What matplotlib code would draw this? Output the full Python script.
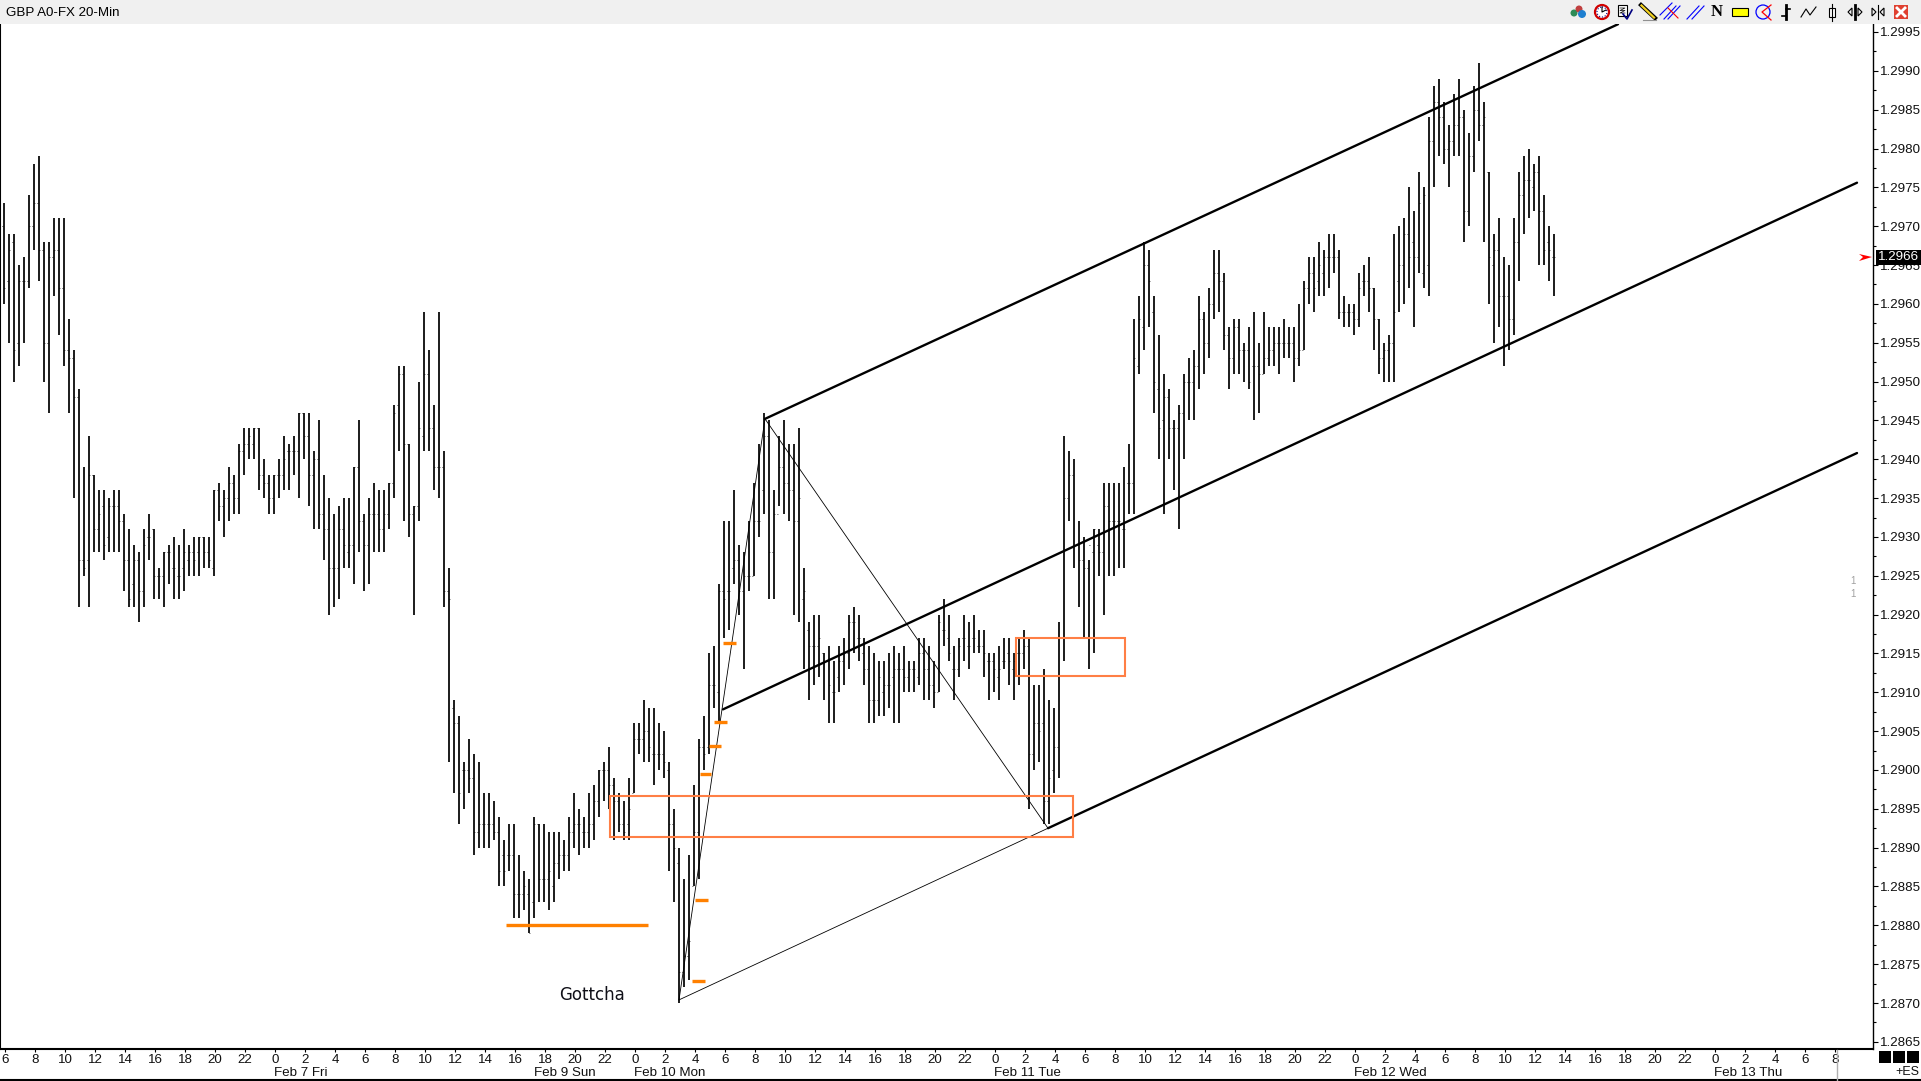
import numpy as np
import matplotlib
matplotlib.use("Agg")
import matplotlib.pyplot as plt
from matplotlib.patches import Rectangle, Polygon, Circle

# 20 minute bars, prices in 1/10000
high_ticks = [
    12973,12969,12969,12965,12966,12974,12978,12979,12968,12968,
    12971,12971,12971,12958,12954,12949,12939,12943,12938,12936,
    12936,12935,12936,12936,12933,12931,12929,12928,12931,12933,
    12931,12926,12928,12929,12930,12929,12931,12929,12930,12930,
    12930,12930,12936,12937,12936,12939,12938,12942,12944,12944,
    12944,12944,12940,12938,12938,12940,12943,12942,12943,12946,
    12946,12946,12941,12945,12938,12935,12933,12934,12935,12935,
    12939,12945,12933,12935,12937,12936,12936,12937,12947,12952,
    12952,12942,12934,12950,12959,12954,12947,12959,12941,12926,
    12909,12907,12901,12904,12902,12901,12897,12897,12896,12894,
    12891,12893,12893,12889,12887,12886,12894,12893,12893,12892,
    12892,12892,12891,12894,12897,12895,12894,12897,12898,12900,
    12901,12903,12899,12897,12896,12899,12906,12906,12909,12908,
    12908,12906,12905,12901,12895,12890,12886,12889,12898,12904,
    12907,12915,12916,12924,12932,12932,12936,12929,12928,12932,
    12937,12942,12946,12945,12936,12943,12945,12942,12942,12944,
    12926,12919,12920,12920,12915,12916,12914,12916,12917,12920,
    12921,12920,12917,12916,12915,12914,12914,12915,12916,12915,
    12916,12914,12914,12917,12917,12916,12914,12920,12922,12920,
    12916,12917,12920,12919,12920,12918,12918,12915,12915,12916,
    12917,12917,12915,12917,12918,12917,12911,12911,12913,12909,
    12908,12919,12943,12941,12940,12932,12930,12927,12931,12931,
    12937,12937,12937,12937,12939,12942,12958,12961,12968,12967,
    12961,12956,12951,12949,12945,12947,12951,12953,12954,12961,
    12959,12962,12967,12967,12964,12957,12958,12958,12955,12957,
    12959,12955,12959,12957,12957,12957,12958,12957,12957,12960,
    12963,12966,12966,12968,12967,12969,12969,12967,12961,12960,
    12960,12964,12965,12966,12962,12958,12955,12956,12969,12970,
    12971,12975,12972,12977,12975,12984,12988,12989,12986,12983,
    12987,12989,12985,12982,12988,12991,12986,12977,12969,12971,
    12966,12965,12971,12977,12979,12980,12978,12979,12974,12970,12969,
]
low_ticks = [
    12960,12955,12950,12952,12955,12962,12967,12963,12950,12946,
    12961,12956,12952,12946,12935,12921,12925,12921,12928,12928,
    12927,12928,12928,12928,12923,12921,12921,12919,12921,12927,
    12922,12922,12921,12924,12922,12922,12923,12925,12925,12925,
    12926,12926,12925,12932,12930,12932,12933,12933,12938,12940,
    12940,12936,12935,12933,12933,12935,12936,12936,12938,12935,
    12940,12934,12931,12931,12927,12920,12921,12922,12926,12926,
    12924,12928,12923,12924,12928,12928,12928,12931,12935,12941,
    12932,12930,12920,12932,12941,12941,12936,12935,12921,12901,
    12897,12893,12895,12897,12889,12890,12890,12890,12891,12885,
    12885,12887,12881,12881,12882,12879,12881,12883,12883,12882,
    12883,12886,12887,12887,12890,12889,12890,12890,12891,12894,
    12896,12895,12891,12892,12891,12891,12897,12902,12901,12901,
    12898,12900,12899,12887,12883,12870,12872,12873,12885,12886,
    12900,12902,12908,12906,12917,12918,12924,12920,12913,12923,
    12925,12930,12933,12922,12922,12934,12933,12932,12920,12919,
    12913,12909,12911,12912,12909,12906,12906,12910,12911,12913,
    12915,12914,12911,12906,12906,12907,12907,12908,12906,12906,
    12910,12910,12910,12911,12909,12909,12908,12910,12916,12914,
    12909,12912,12914,12913,12915,12915,12912,12909,12910,12909,
    12913,12911,12909,12911,12913,12895,12900,12901,12893,12893,
    12897,12899,12914,12932,12926,12921,12917,12913,12915,12925,
    12920,12925,12925,12926,12926,12933,12933,12951,12954,12957,
    12946,12940,12933,12940,12936,12931,12940,12945,12945,12949,
    12951,12953,12958,12959,12954,12949,12951,12951,12950,12949,
    12945,12946,12951,12952,12952,12951,12953,12953,12950,12952,
    12954,12960,12959,12961,12961,12962,12964,12958,12957,12957,
    12956,12957,12961,12959,12954,12951,12950,12950,12950,12959,
    12960,12962,12957,12964,12962,12961,12975,12979,12978,12975,
    12979,12979,12968,12970,12977,12981,12968,12960,12955,12957,
    12952,12954,12956,12963,12969,12971,12972,12965,12965,12963,12961,
]
open_ticks = [
    12970,12963,12968,12955,12963,12963,12970,12973,12967,12955,
    12966,12967,12962,12954,12953,12948,12927,12927,12938,12931,
    12934,12930,12934,12934,12932,12927,12924,12927,12923,12930,
    12931,12925,12925,12928,12926,12925,12926,12927,12928,12928,
    12930,12928,12926,12936,12934,12935,12937,12935,12941,12942,
    12942,12944,12938,12937,12935,12938,12938,12941,12941,12941,
    12946,12943,12938,12940,12933,12931,12926,12926,12931,12928,
    12929,12939,12932,12929,12933,12933,12931,12933,12937,12947,
    12951,12942,12933,12934,12943,12951,12944,12939,12939,12923,
    12908,12906,12900,12900,12899,12892,12893,12893,12893,12892,
    12889,12889,12889,12884,12884,12884,12883,12893,12886,12886,
    12885,12888,12889,12889,12892,12893,12892,12892,12893,12896,
    12900,12900,12898,12896,12893,12893,12897,12904,12904,12905,
    12902,12902,12902,12900,12893,12888,12874,12876,12885,12892,
    12903,12903,12911,12910,12923,12923,12926,12927,12923,12925,
    12925,12932,12936,12943,12928,12933,12939,12937,12936,12932,
    12922,12918,12916,12916,12915,12914,12910,12912,12914,12915,
    12919,12917,12915,12913,12909,12909,12910,12911,12912,12913,
    12913,12912,12913,12912,12915,12913,12911,12910,12918,12917,
    12913,12913,12917,12916,12917,12916,12916,12914,12914,12912,
    12914,12915,12913,12915,12915,12916,12902,12906,12906,12896,
    12900,12903,12917,12935,12938,12929,12927,12926,12928,12929,
    12928,12934,12932,12932,12931,12937,12937,12952,12957,12965,
    12959,12949,12945,12948,12944,12944,12946,12950,12950,12952,
    12958,12955,12960,12964,12963,12956,12953,12957,12954,12954,
    12952,12952,12951,12953,12954,12955,12955,12955,12955,12953,
    12954,12962,12964,12963,12964,12966,12966,12966,12959,12959,
    12959,12958,12963,12963,12962,12958,12953,12954,12955,12963,
    12965,12969,12968,12966,12964,12965,12981,12986,12984,12980,
    12981,12983,12984,12972,12979,12985,12983,12977,12965,12967,
    12961,12961,12958,12968,12974,12976,12975,12977,12972,12968,12966,
]
close_ticks = [
    12962,12967,12954,12963,12963,12970,12973,12967,12955,12966,
    12967,12962,12954,12953,12948,12927,12926,12938,12931,12933,
    12929,12934,12934,12932,12927,12922,12927,12923,12929,12930,
    12925,12925,12928,12928,12926,12925,12928,12928,12927,12930,
    12928,12927,12936,12934,12935,12937,12935,12941,12942,12943,
    12944,12938,12937,12935,12938,12938,12940,12941,12941,12946,
    12943,12938,12940,12933,12931,12926,12926,12931,12929,12929,
    12939,12932,12929,12933,12933,12931,12933,12937,12946,12951,
    12942,12933,12934,12944,12951,12944,12939,12939,12923,12922,
    12906,12897,12900,12899,12892,12893,12893,12893,12892,12887,
    12887,12889,12884,12884,12885,12879,12893,12886,12886,12887,
    12888,12889,12889,12892,12893,12893,12892,12893,12896,12900,
    12900,12898,12896,12893,12892,12895,12904,12904,12905,12903,
    12902,12902,12901,12893,12890,12874,12876,12878,12892,12903,
    12902,12911,12911,12923,12922,12923,12927,12923,12925,12925,
    12932,12932,12943,12928,12933,12939,12937,12936,12932,12935,
    12923,12916,12916,12917,12914,12911,12910,12914,12915,12919,
    12919,12917,12913,12909,12909,12912,12911,12911,12913,12913,
    12912,12913,12913,12915,12913,12911,12910,12919,12918,12915,
    12913,12916,12917,12916,12917,12916,12915,12914,12913,12913,
    12914,12914,12914,12915,12916,12902,12906,12905,12896,12899,
    12903,12917,12935,12938,12929,12927,12926,12929,12931,12928,
    12934,12932,12932,12932,12931,12937,12953,12958,12965,12963,
    12950,12944,12948,12944,12944,12946,12950,12950,12952,12958,
    12955,12960,12964,12963,12956,12953,12957,12954,12954,12950,
    12952,12951,12953,12954,12955,12955,12955,12955,12953,12954,
    12962,12964,12962,12965,12966,12966,12966,12959,12959,12959,
    12958,12962,12963,12962,12958,12953,12954,12955,12959,12965,
    12969,12966,12966,12973,12974,12981,12986,12984,12980,12981,
    12983,12984,12972,12979,12985,12983,12984,12966,12967,12961,
    12961,12958,12968,12974,12976,12976,12977,12972,12967,12967,12966,
]

# pitchfork anchors (bar number, price)
pivot_a = (135.0, 1.28704)
pivot_b = (152.2, 1.29452)
pivot_c = (208.8, 1.28925)
mid_start = (143.8, 1.29078)
upper_end = (322.8, 1.29960)
mid_end = (370.6, 1.29756)
lower_end = (370.6, 1.29408)

# orange boxes and dashes, bar number and price
box_bars = [(121.2, 213.8), (202.4, 224.2)]
box_prices = [(1.28914, 1.28966), (1.29121, 1.29170)]
dash_bars = [(100.4, 128.8), (143.8, 146.4), (142.0, 144.6), (141.0, 143.4),
             (139.2, 141.4), (138.2, 140.8), (137.6, 140.2)]
dash_prices = [1.28800, 1.29163, 1.29062, 1.29031, 1.28995, 1.28833, 1.28728]

hour_labels = [str((6 + 2 * k) % 24) for k in range(62)]
day_labels = ["Feb 7 Fri", "Feb 9 Sun", "Feb 10 Mon", "Feb 11 Tue", "Feb 12 Wed", "Feb 13 Thu"]
day_bars = [54, 106, 126, 198, 270, 342]
price_labels = np.arange(12865, 12996, 5) / 10000
last_price = 1.2966

W, H = 1921, 1081
PX_PER_UNIT = 77680  # pixels per 1.0 of price
plt.rcParams['font.family'] = ['Liberation Sans', 'DejaVu Sans']
fig = plt.figure(figsize=(W / 100, H / 100), dpi=100, facecolor='white')

# main pane: pixels x 0-1873, y 24-1049
ax = fig.add_axes([0, 1 - 1049 / H, 1873 / W, (1049 - 24) / H])
ax.set_xlim(-0.8, 373.8)
ax.set_ylim(1.2995 - 1017 / PX_PER_UNIT, 1.2995 + 8 / PX_PER_UNIT)

bars = np.arange(len(high_ticks))
highs = np.array(high_ticks) / 10000
lows = np.array(low_ticks) / 10000
opens = np.array(open_ticks) / 10000
closes = np.array(close_ticks) / 10000

# 2 px wide bars, antialiased so the width does not snap up to 3 px
ax.vlines(bars, lows, highs, color='black', linewidth=1.25, zorder=3)
ax.hlines(opens, bars - 0.45, bars, color='black', linewidth=0.6, zorder=3,
          linestyles=(0, (1, 1.5)))
ax.hlines(closes, bars, bars + 0.45, color='black', linewidth=0.6, zorder=3,
          linestyles=(0, (1, 1.5)))

# pitchfork
thin = dict(color='black', linewidth=0.6, zorder=4)
thick = dict(color='black', linewidth=1.7, zorder=4, solid_capstyle='round')
ax.plot([pivot_a[0], pivot_b[0], pivot_c[0]], [pivot_a[1], pivot_b[1], pivot_c[1]], **thin)
ax.plot([pivot_a[0], pivot_c[0]], [pivot_a[1], pivot_c[1]], **thin)
ax.plot([pivot_b[0], upper_end[0]], [pivot_b[1], upper_end[1]], **thick)
ax.plot([mid_start[0], mid_end[0]], [mid_start[1], mid_end[1]], **thick)
ax.plot([pivot_c[0], lower_end[0]], [pivot_c[1], lower_end[1]], **thick)

for (x0, x1), (y0, y1) in zip(box_bars, box_prices):
    ax.add_patch(Rectangle((x0, y0), x1 - x0, y1 - y0, fill=False, edgecolor='#FF7F45',
                           linewidth=1.5, zorder=5))
for (x0, x1), y in zip(dash_bars, dash_prices):
    ax.plot([x0, x1], [y, y], color='#FF8000', linewidth=2.4, solid_capstyle='butt', zorder=6)

ax.text(111, 1.28710, "Gottcha", family='DejaVu Sans', fontsize=12, color='#101018',
        ha='left', va='center', zorder=6)

# axes
ax.spines['top'].set_visible(False)
ax.spines['left'].set_linewidth(1.5)
ax.spines['bottom'].set_linewidth(1.5)
ax.spines['right'].set_linewidth(1.0)
ax.yaxis.tick_right()
ax.set_yticks(price_labels)
ax.set_yticklabels([f"{p:.4f}" for p in price_labels], fontsize=9.6, color='#101010')
ax.set_yticks(price_labels[:-1] + 0.00025, minor=True)
ax.tick_params(axis='y', which='major', length=3.6, width=0.8, pad=1.5)
ax.tick_params(axis='y', which='minor', length=2.2, width=0.8)
ax.set_xticks(np.arange(len(hour_labels)) * 6 + 0.2)
ax.set_xticklabels(hour_labels, fontsize=9.6, color='#101010')
ax.tick_params(axis='x', length=2.2, width=0.8, pad=1.5)
for d, b in zip(day_labels, day_bars):
    ax.annotate(d, xy=(b, 0), xycoords=('data', 'axes fraction'), xytext=(0, -24),
                textcoords='offset pixels', ha='left', va='center', fontsize=9.6, color='#101010')

# window chrome in pixel coordinates
ov = fig.add_axes([0, 0, 1, 1], zorder=10)
ov.set_xlim(0, W)
ov.set_ylim(H, 0)
ov.axis('off')
ov.patch.set_alpha(0)
ov.add_patch(Rectangle((0, 0), W, 24, color='#F0F0F0', lw=0))
ov.text(6, 12.5, "GBP A0-FX 20-Min", fontsize=9.6, va='center', ha='left', color='black')
ov.plot([0, W], [1080, 1080], color='black', lw=1.5)
ov.plot([1837, 1837], [1050, 1081], color='#B0B0B0', lw=1)

# last price flag
ov.add_patch(Rectangle((1876, 250), 45, 15, color='black', lw=0))
ov.text(1899, 257.5, f"{last_price:.4f}", color='white', fontsize=9.6, ha='center', va='center')
ov.add_patch(Polygon([[1859, 254], [1872, 257], [1859, 261], [1863, 257]], color='#FF0000', lw=0))

ov.text(1853, 581, "1", color='#A0A0A0', fontsize=7, ha='center', va='center')
ov.text(1853, 594, "1", color='#A0A0A0', fontsize=7, ha='center', va='center')

for x0 in [1879, 1893, 1907]:
    ov.add_patch(Rectangle((x0, 1051), 12, 12, color='black', lw=0))
ov.text(1919, 1072, "+ES", fontsize=9, ha='right', va='center', color='#101010')

# toolbar icons
ov.add_patch(Circle((1574, 13), 3.5, color='#2E8B57', lw=0))
ov.add_patch(Circle((1579, 9), 3.5, color='#C04040', lw=0))
ov.add_patch(Circle((1582, 14), 4, color='#1E7FD0', lw=0))
ov.add_patch(Circle((1602, 12), 7, facecolor='white', edgecolor='#D00000', lw=1.6))
ov.add_patch(Circle((1602, 12), 5, fill=False, edgecolor='#000080', lw=0.8, ls=':'))
ov.plot([1602, 1602, 1606], [7, 12, 10], color='black', lw=0.8)
ov.add_patch(Rectangle((1618, 5), 9, 11, facecolor='white', edgecolor='black', lw=0.8))
ov.plot([1620, 1625, 1620, 1625, 1620, 1625], [8, 8, 10.5, 10.5, 13, 13], color='black', lw=0.5)
ov.plot([1623, 1627, 1632], [14, 19, 10], color='#000080', lw=1.2)
ov.plot([1641, 1655], [5, 18], color='black', lw=3)
ov.plot([1641.5, 1654], [5.5, 17.5], color='#F0D020', lw=1.6)
ov.plot([1643, 1656], [19.5, 19.5], color='#909090', lw=0.8)
ov.plot([1664, 1676], [19, 6], color='blue', lw=0.8)
ov.plot([1668, 1680], [19, 6], color='blue', lw=0.8)
ov.plot([1660, 1672], [15, 3], color='blue', lw=0.8)
ov.plot([1668, 1678], [8, 18], color='red', lw=0.8)
ov.plot([1687, 1699], [19, 6], color='blue', lw=0.8)
ov.plot([1692, 1704], [19, 6], color='blue', lw=0.8)
ov.text(1717, 12.5, "N", family='Liberation Serif', fontweight='bold', fontsize=12, ha='center', va='center')
ov.add_patch(Rectangle((1732, 8), 16, 8, facecolor='#FFFF00', edgecolor='black', lw=0.8))
ov.add_patch(Circle((1763, 12), 7, fill=False, edgecolor='blue', lw=0.9))
ov.plot([1771, 1762, 1771], [5, 12, 20], color='red', lw=0.9)
ov.plot([1786, 1786], [5, 19], color='black', lw=2)
ov.plot([1786, 1790], [9, 9], color='black', lw=1.2)
ov.plot([1782, 1786], [16, 16], color='black', lw=1.2)
ov.plot([1801, 1806, 1810, 1816], [17, 9, 15, 7], color='black', lw=0.8)
ov.plot([1832, 1832], [4, 21], color='black', lw=0.8)
ov.add_patch(Rectangle((1829, 8), 6, 9, facecolor='white', edgecolor='black', lw=0.8))
ov.plot([1855, 1855], [5, 19], color='black', lw=2)
ov.add_patch(Polygon([[1852, 8], [1848, 12], [1852, 16]], fill=False, edgecolor='black', lw=0.8))
ov.add_patch(Polygon([[1858, 8], [1862, 12], [1858, 16]], fill=False, edgecolor='black', lw=0.8))
ov.plot([1878, 1878], [5, 19], color='black', lw=0.8)
ov.add_patch(Polygon([[1872, 8], [1876, 12], [1872, 16]], fill=False, edgecolor='black', lw=0.8))
ov.add_patch(Polygon([[1884, 8], [1880, 12], [1884, 16]], fill=False, edgecolor='black', lw=0.8))
ov.add_patch(Rectangle((1894, 5), 14, 14, color='#E04030', lw=0))
ov.plot([1897, 1905], [8, 16], color='white', lw=2)
ov.plot([1897, 1905], [16, 8], color='white', lw=2)

fig.savefig("out.png", dpi=100)
